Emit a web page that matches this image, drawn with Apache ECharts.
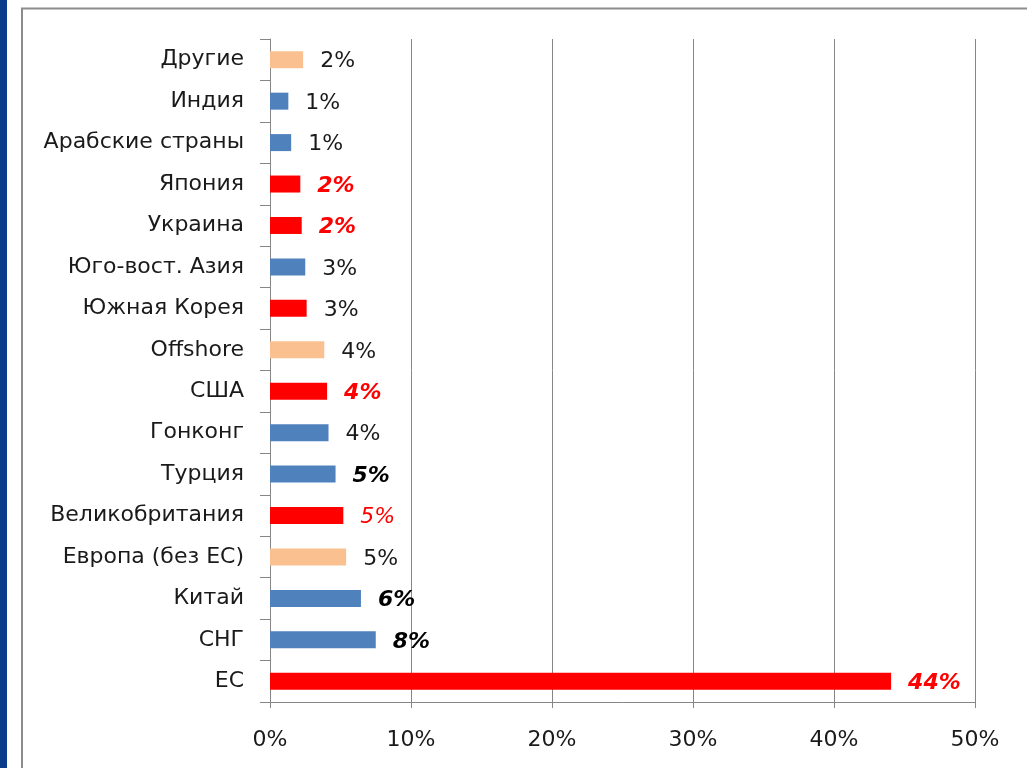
<!DOCTYPE html>
<html><head><meta charset="utf-8">
<script src="https://cdn.jsdelivr.net/npm/echarts@6/dist/echarts.min.js"></script>
<style>html,body{margin:0;padding:0;background:#fff}#c{width:1027px;height:768px}</style>
</head><body><div id="c"></div>
<script>
const categories = ['ЕС','СНГ','Китай','Европа (без ЕС)','Великобритания','Турция','Гонконг','США','Offshore','Южная Корея','Юго-вост. Азия','Украина','Япония','Арабские страны','Индия','Другие'];
const values = [44.05, 7.5, 6.45, 5.4, 5.2, 4.65, 4.15, 4.05, 3.85, 2.6, 2.5, 2.25, 2.15, 1.5, 1.3, 2.35];
const valueLabels = ['44%','8%','6%','5%','5%','5%','4%','4%','4%','3%','3%','2%','2%','1%','1%','2%'];
const barColors = ['red','blue','blue','peach','red','blue','blue','red','peach','red','blue','red','red','blue','blue','peach'];
const labelStyles = ['redBI','blackBI','blackBI','normal','redI','blackBI','normal','redBI','normal','normal','normal','redBI','redBI','normal','normal','normal'];
const xTicks = [0, 10, 20, 30, 40, 50];

const palette = {red:'#FF0000', blue:'#4F81BD', peach:'#FAC090'};
const styleMap = {
  normal:{color:'#1a1a1a', fontStyle:'normal', fontWeight:'normal'},
  redBI:{color:'#FF0000', fontStyle:'italic', fontWeight:'bold'},
  redI:{color:'#FF0000', fontStyle:'italic', fontWeight:'normal'},
  blackBI:{color:'#000000', fontStyle:'italic', fontWeight:'bold'}
};
const FONT = '"DejaVu Sans", sans-serif';
const chart = echarts.init(document.getElementById('c'));
chart.setOption({
  animation:false,
  backgroundColor:'#fff',
  graphic:[
    {type:'rect', shape:{x:0,y:0,width:7,height:768}, style:{fill:'#0B3C8C'}},
    {type:'rect', shape:{x:22,y:8.5,width:1030,height:800}, style:{fill:'none', stroke:'#8C8C8C', lineWidth:2}}
  ],
  grid:{left:270, right:52, top:39, bottom:66},
  xAxis:{
    type:'value', min:xTicks[0], max:xTicks[xTicks.length-1], interval:10,
    axisLine:{show:true, lineStyle:{color:'#868686', width:1}},
    axisTick:{show:true, length:6, lineStyle:{color:'#868686'}},
    splitLine:{show:true, lineStyle:{color:'#868686', width:1}},
    axisLabel:{formatter:'{value}%', color:'#1a1a1a', fontSize:22, fontFamily:FONT, margin:27}
  },
  yAxis:{
    type:'category', data:categories,
    axisLine:{show:true, lineStyle:{color:'#868686', width:1}},
    axisTick:{show:true, length:10, lineStyle:{color:'#868686'}},
    axisLabel:{color:'#1a1a1a', fontSize:22, fontFamily:FONT, margin:26, padding:[4,0,0,0]}
  },
  series:[{
    type:'bar', barWidth:17,
    data: values.map((v,i)=>({
      value:v,
      itemStyle:{color:palette[barColors[i]]},
      label:Object.assign({show:true, position:'right', distance:17, offset:[0,2], fontSize:22, fontFamily:FONT,
        formatter:()=>valueLabels[i]}, styleMap[labelStyles[i]])
    }))
  }]
});
</script></body></html>
